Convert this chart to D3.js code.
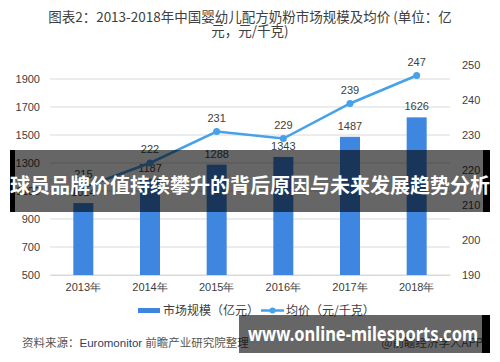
<!DOCTYPE html>
<html>
<head>
<meta charset="utf-8">
<script src="https://cdn.jsdelivr.net/npm/d3@7"></script>
<style>
body{margin:0;background:#fff;}
svg{display:block;font-family:"Noto Sans CJK SC","Noto Sans",sans-serif;}
</style>
</head>
<body>
<div id="chart"></div>
<script>
var years = ["2013年","2014年","2015年","2016年","2017年","2018年"];
var marketSize = [1014, 1187, 1288, 1343, 1487, 1626];
var avgPrice = [215, 222, 231, 229, 239, 247];
var leftTicks = [500, 700, 900, 1100, 1300, 1500, 1700, 1900];
var rightTicks = [190, 200, 210, 220, 230, 240, 250];

var barColor = "#3f86e0", lineColor = "#45a2ea", txt = "#404040";
var numFont = "Liberation Sans, Arial, sans-serif";

var svg = d3.select("#chart").append("svg").attr("width", 500).attr("height", 362);

// title
svg.append("text").attr("x",250).attr("y",22).attr("text-anchor","middle").attr("font-size",13.5).attr("fill",txt)
    .text("图表2：2013-2018年中国婴幼儿配方奶粉市场规模及均价 (单位：亿");
svg.append("text").attr("x",250).attr("y",36).attr("text-anchor","middle").attr("font-size",13.5).attr("fill",txt)
    .text("元，元/千克)");

var x = d3.scaleBand().domain(years).range([50,450]).paddingInner(0.7).paddingOuter(0.35);
var yl = d3.scaleLinear().domain([500,2000]).range([275,65]);
var yr = d3.scaleLinear().domain([190,250]).range([275,65]);

// grid
svg.selectAll(".grid").data(leftTicks).enter().append("line")
    .attr("x1",50).attr("x2",450).attr("y1",function(d){return yl(d);}).attr("y2",function(d){return yl(d);})
    .attr("stroke","#d9d9d9").attr("stroke-width",1);

// left axis
var axL = svg.append("g").attr("transform","translate(44,0)")
    .call(d3.axisLeft(yl).tickValues(leftTicks).tickFormat(d3.format("d")).tickSize(0).tickPadding(4));
axL.select(".domain").remove();
axL.selectAll("text").attr("font-size",11).attr("fill",txt).attr("font-family",numFont);

// right axis
var axR = svg.append("g").attr("transform","translate(458,0)")
    .call(d3.axisRight(yr).tickValues(rightTicks).tickFormat(d3.format("d")).tickSize(0).tickPadding(4));
axR.select(".domain").remove();
axR.selectAll("text").attr("font-size",11).attr("fill",txt).attr("font-family",numFont);

// x axis
var axB = svg.append("g").attr("transform","translate(0,275)")
    .call(d3.axisBottom(x).tickSize(0).tickPadding(8));
axB.select(".domain").attr("stroke","#d9d9d9");
axB.selectAll("text").attr("font-size",11).attr("fill",txt);

// bars
svg.selectAll(".bar").data(marketSize).enter().append("rect")
    .attr("x",function(d,i){return x(years[i]);}).attr("width",x.bandwidth())
    .attr("y",function(d){return yl(d);}).attr("height",function(d){return yl(500)-yl(d);})
    .attr("fill",barColor);
svg.selectAll(".barlab").data(marketSize).enter().append("text")
    .attr("x",function(d,i){return x(years[i])+x.bandwidth()/2;}).attr("y",function(d){return yl(d)-7;})
    .attr("text-anchor","middle").attr("font-size",11).attr("fill",txt).attr("font-family",numFont)
    .text(function(d){return d;});

// line
var cx = function(d,i){return x(years[i])+x.bandwidth()/2;};
var line = d3.line().x(cx).y(function(d){return yr(d);});
svg.append("path").datum(avgPrice).attr("d",line).attr("fill","none").attr("stroke",lineColor).attr("stroke-width",2.5);
svg.selectAll(".dot").data(avgPrice).enter().append("circle")
    .attr("cx",cx).attr("cy",function(d){return yr(d);}).attr("r",3.5).attr("fill",lineColor);
svg.selectAll(".linelab").data(avgPrice).enter().append("text")
    .attr("x",cx).attr("y",function(d){return yr(d)-10;})
    .attr("text-anchor","middle").attr("font-size",11).attr("fill",txt).attr("font-family",numFont)
    .text(function(d){return d;});

// legend
svg.append("rect").attr("x",138).attr("y",308).attr("width",22).attr("height",5).attr("fill",barColor);
svg.append("text").attr("x",163).attr("y",315).attr("font-size",12).attr("fill",txt).text("市场规模（亿元）");
svg.append("line").attr("x1",261).attr("x2",284).attr("y1",310.5).attr("y2",310.5).attr("stroke",lineColor).attr("stroke-width",2.5);
svg.append("circle").attr("cx",272.5).attr("cy",310.5).attr("r",3).attr("fill",lineColor);
svg.append("text").attr("x",286).attr("y",315).attr("font-size",12).attr("fill",txt).text("均价（元/千克）");

// source
var src = svg.append("text").attr("x",22).attr("y",347).attr("font-size",11.5).attr("fill","#555");
src.append("tspan").text("资料来源：");
src.append("tspan").attr("fill","#2d3f66").attr("font-family",numFont).text("Euromonitor ");
src.append("tspan").text("前瞻产业研究院整理");
svg.append("text").attr("x",483).attr("y",347).attr("text-anchor","end").attr("font-size",11.5).attr("fill","#555").text("@前瞻经济学人APP");

// overlay banners
svg.append("rect").attr("x",10).attr("y",150).attr("width",480).attr("height",62).attr("fill","#000").attr("opacity",0.6);
svg.append("rect").attr("x",10).attr("y",150).attr("width",5).attr("height",62).attr("fill","#000");
svg.append("rect").attr("x",483).attr("y",150).attr("width",7).attr("height",62).attr("fill","#000");
svg.append("text").attr("x",250).attr("y",193).attr("text-anchor","middle").attr("font-size",20).attr("font-weight","bold")
    .attr("fill","#fff").text("球员品牌价值持续攀升的背后原因与未来发展趋势分析");

svg.append("rect").attr("x",239).attr("y",315).attr("width",251).attr("height",38).attr("fill","#000").attr("opacity",0.6);
svg.append("rect").attr("x",482).attr("y",315).attr("width",8).attr("height",38).attr("fill","#000");
svg.append("text").attr("x",248).attr("y",341).attr("font-size",20).attr("font-weight","bold")
    .attr("fill","#fff").attr("font-family","Noto Sans, sans-serif")
    .attr("textLength",230).attr("lengthAdjust","spacingAndGlyphs").text("www.online-milesports.com");
</script>
</body>
</html>
